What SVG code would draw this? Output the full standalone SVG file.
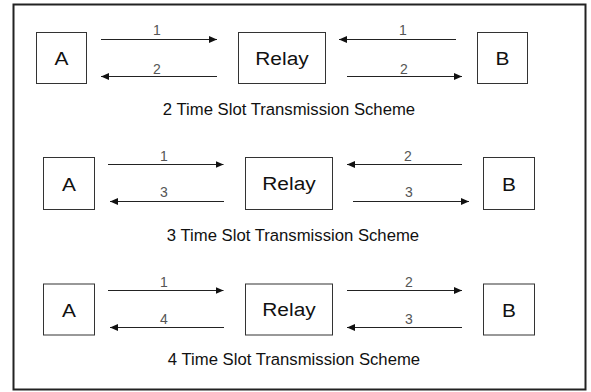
<svg xmlns="http://www.w3.org/2000/svg" width="591" height="392" viewBox="0 0 591 392">
  <style>
    .box { fill: #fff; stroke: #333; stroke-width: 1; }
    .node { font-family: "Liberation Sans", Arial, sans-serif; font-size: 19px; fill: #111; text-anchor: middle; }
    .num { font-family: "Liberation Sans", Arial, sans-serif; font-size: 14px; fill: #555; text-anchor: middle; }
    .cap { font-family: "Liberation Sans", Arial, sans-serif; font-size: 16.7px; fill: #111; text-anchor: middle; }
    .arr { stroke: #222; stroke-width: 1; fill: none; marker-end: url(#ah); }
  </style>
  <defs>
    <marker id="ah" markerUnits="userSpaceOnUse" markerWidth="9" markerHeight="7" refX="8" refY="3.5" orient="auto">
      <path d="M0,0 L8,3.5 L0,7 z" fill="#111"/>
    </marker>
  </defs>
  <rect x="0" y="0" width="591" height="392" fill="#fff"/>
  <rect id="frame" x="13.5" y="4.5" width="572" height="385" fill="none" stroke="#222" stroke-width="2"/>

  <!-- Scheme 1 -->
  <g id="s1-A"><rect class="box" x="36.5" y="32.5" width="50" height="51"/><text class="node" transform="translate(61.5,65) scale(1.1,1)">A</text></g>
  <g id="s1-Relay"><rect class="box" x="238.5" y="32.5" width="87" height="51"/><text class="node" transform="translate(282,64.5) scale(1.1,1)">Relay</text></g>
  <g id="s1-B"><rect class="box" x="477.5" y="32.5" width="50" height="51"/><text class="node" transform="translate(502.5,65) scale(1.1,1)">B</text></g>
  <g id="s1-connectors">
    <line class="arr" x1="101" y1="39.5" x2="217" y2="39.5"/>
    <line class="arr" x1="217" y1="76.5" x2="101" y2="76.5"/>
    <line class="arr" x1="456" y1="39.5" x2="339" y2="39.5"/>
    <line class="arr" x1="347" y1="76.5" x2="462" y2="76.5"/>
    <text class="num" x="157" y="35">1</text>
    <text class="num" x="157" y="73.5">2</text>
    <text class="num" x="403" y="35">1</text>
    <text class="num" x="404" y="73.5">2</text>
  </g>
  <text id="s1-caption" class="cap" x="289" y="115">2 Time Slot Transmission Scheme</text>

  <!-- Scheme 2 -->
  <g id="s2-A"><rect class="box" x="43.5" y="157.5" width="51" height="52"/><text class="node" transform="translate(69,190.5) scale(1.1,1)">A</text></g>
  <g id="s2-Relay"><rect class="box" x="245.5" y="157.5" width="87" height="52"/><text class="node" transform="translate(289,190) scale(1.1,1)">Relay</text></g>
  <g id="s2-B"><rect class="box" x="483.5" y="157.5" width="51" height="52"/><text class="node" transform="translate(509,190.5) scale(1.1,1)">B</text></g>
  <g id="s2-connectors">
    <line class="arr" x1="108" y1="164.5" x2="223.5" y2="164.5"/>
    <line class="arr" x1="224" y1="201.5" x2="110" y2="201.5"/>
    <line class="arr" x1="462" y1="164.5" x2="347" y2="164.5"/>
    <line class="arr" x1="353" y1="201.5" x2="469" y2="201.5"/>
    <text class="num" x="164" y="161">1</text>
    <text class="num" x="164" y="197">3</text>
    <text class="num" x="408" y="161">2</text>
    <text class="num" x="409" y="197">3</text>
  </g>
  <text id="s2-caption" class="cap" x="293" y="241">3 Time Slot Transmission Scheme</text>

  <!-- Scheme 3 -->
  <g id="s3-A"><rect class="box" x="43.5" y="284" width="51" height="51"/><text class="node" transform="translate(69,316.5) scale(1.1,1)">A</text></g>
  <g id="s3-Relay"><rect class="box" x="245.5" y="284" width="87" height="51"/><text class="node" transform="translate(289,316) scale(1.1,1)">Relay</text></g>
  <g id="s3-B"><rect class="box" x="483.5" y="284" width="51" height="51"/><text class="node" transform="translate(509,316.5) scale(1.1,1)">B</text></g>
  <g id="s3-connectors">
    <line class="arr" x1="108" y1="290.5" x2="223.5" y2="290.5"/>
    <line class="arr" x1="224" y1="327.5" x2="110" y2="327.5"/>
    <line class="arr" x1="347" y1="290.5" x2="462" y2="290.5"/>
    <line class="arr" x1="462" y1="327.5" x2="347" y2="327.5"/>
    <text class="num" x="164" y="286.5">1</text>
    <text class="num" x="164" y="323.5">4</text>
    <text class="num" x="409" y="287">2</text>
    <text class="num" x="409" y="323.5">3</text>
  </g>
  <text id="s3-caption" class="cap" x="294" y="365">4 Time Slot Transmission Scheme</text>
</svg>
